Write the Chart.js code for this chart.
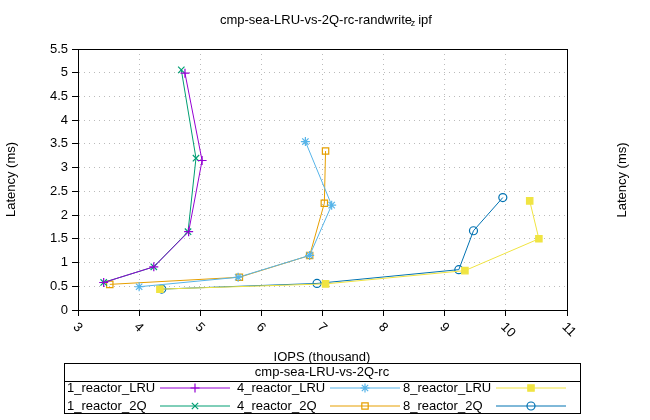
<!DOCTYPE html>
<html>
<head>
<meta charset="utf-8">
<script src="https://cdn.jsdelivr.net/npm/chart.js@4"></script>
<style>
  body { margin: 0; background: #fff; }
  #wrap { width: 650px; height: 420px; }
</style>
</head>
<body>
<div id="wrap"><canvas id="myChart"></canvas></div>
<script>
'use strict';

// IOPS (thousand) / latency (ms) per series
var r1_lru_x = [3.42, 4.24, 4.81, 5.03, 4.75];
var r1_lru_y = [0.58, 0.91, 1.65, 3.15, 4.99];
var r1_2q_x = [3.42, 4.24, 4.80, 4.93, 4.69];
var r1_2q_y = [0.58, 0.91, 1.65, 3.20, 5.06];
var r4_lru_x = [4.00, 5.62, 6.79, 7.15, 6.72];
var r4_lru_y = [0.49, 0.69, 1.15, 2.21, 3.55];
var r4_2q_x = [3.52, 5.64, 6.79, 7.03, 7.05];
var r4_2q_y = [0.54, 0.69, 1.15, 2.25, 3.35];
var r8_lru_x = [4.34, 7.05, 9.33, 10.54, 10.39];
var r8_lru_y = [0.44, 0.55, 0.83, 1.50, 2.30];
var r8_2q_x = [4.37, 6.91, 9.23, 9.47, 9.95];
var r8_2q_y = [0.44, 0.56, 0.85, 1.67, 2.37];

var x_ticks = [3, 4, 5, 6, 7, 8, 9, 10, 11];
var labels = ['1_reactor_LRU', '4_reactor_LRU', '8_reactor_LRU', '1_reactor_2Q', '4_reactor_2Q', '8_reactor_2Q'];

function pts(xs, ys) {
    return xs.map(function (x, i) { return {x: x, y: ys[i]}; });
}

function series(label, xs, ys, color, style, filled) {
    return {
        label: label,
        data: pts(xs, ys),
        showLine: true,
        borderColor: color,
        backgroundColor: filled ? color : 'rgba(0,0,0,0)',
        borderWidth: 1,
        pointStyle: style,
        pointRadius: style === 'circle' ? 4 : 4.5,
        pointBorderColor: color,
        pointBackgroundColor: filled ? color : 'rgba(0,0,0,0)',
        pointBorderWidth: 1.2
    };
}

var FONT = '"Liberation Sans", Arial, sans-serif';

var frame = {
    id: 'frame',
    afterDraw: function (chart) {
        var c = chart.ctx, a = chart.chartArea;
        c.save();
        c.strokeStyle = '#000';
        c.lineWidth = 1;
        c.strokeRect(a.left + 0.5, a.top + 0.5, a.right - a.left, a.bottom - a.top);
        c.fillStyle = '#000';
        c.textAlign = 'center';
        c.textBaseline = 'middle';
        c.font = '13px ' + FONT;
        c.fillText('cmp-sea-LRU-vs-2Q-rc-randwrite', 316, 20);
        c.font = '9px ' + FONT;
        c.fillText('z', 413, 24);
        c.font = '13px ' + FONT;
        c.fillText('ipf', 425, 20);
        c.fillText('IOPS (thousand)', 322, 357);

        // rotated x tick labels
        var xs = chart.scales.x;
        c.textAlign = 'left';
        x_ticks.forEach(function (v) {
            c.save();
            c.translate(xs.getPixelForValue(v) - 3, 325);
            c.rotate(Math.PI / 4);
            c.fillText(String(v), 0, 0);
            c.restore();
        });

        // right axis title
        c.save();
        c.translate(622, 180);
        c.rotate(-Math.PI / 2);
        c.textAlign = 'center';
        c.fillText('Latency (ms)', 0, 0);
        c.restore();

        // legend box
        c.textAlign = 'center';
        c.strokeRect(64.5, 363.5, 516, 50);
        c.beginPath();
        c.moveTo(64.5, 381.5); c.lineTo(580.5, 381.5);
        c.stroke();
        c.fillText('cmp-sea-LRU-vs-2Q-rc', 322, 372);
        c.textAlign = 'left';
        var cols = [67, 237, 403];
        chart.data.datasets.forEach(function (d, i) {
            var col = i % 3, row = Math.floor(i / 3);
            var x = cols[col], y = 388 + row * 18;
            c.fillStyle = '#000';
            c.fillText(d.label, x, y);
            var x1 = x + 93, x2 = x + 163;
            c.strokeStyle = d.borderColor;
            c.lineWidth = 1;
            c.beginPath();
            c.moveTo(x1, y); c.lineTo(x2, y);
            c.stroke();
            c.fillStyle = d.pointBackgroundColor;
            c.strokeStyle = d.pointBorderColor;
            c.lineWidth = 1.2;
            Chart.helpers.drawPoint(c, {
                pointStyle: d.pointStyle, radius: d.pointRadius, rotation: 0, borderWidth: 1.2
            }, (x1 + x2) / 2, y);
        });
        c.restore();
    }
};

new Chart(document.getElementById('myChart'), {
    type: 'scatter',
    data: {
        datasets: [
            series(labels[0], r1_lru_x, r1_lru_y, '#9400d3', 'cross', false),
            series(labels[1], r4_lru_x, r4_lru_y, '#56b4e9', 'star', false),
            series(labels[2], r8_lru_x, r8_lru_y, '#f0e442', 'rect', true),
            series(labels[3], r1_2q_x, r1_2q_y, '#009e73', 'crossRot', false),
            series(labels[4], r4_2q_x, r4_2q_y, '#e69f00', 'rect', false),
            series(labels[5], r8_2q_x, r8_2q_y, '#0072b2', 'circle', false)
        ]
    },
    options: {
        responsive: true,
        maintainAspectRatio: false,
        animation: false,
        layout: {padding: {top: 49, left: 0, right: 0, bottom: 0}},
        plugins: {legend: {display: false}, title: {display: false}, tooltip: {enabled: false}},
        scales: {
            x: {
                type: 'linear', min: 3, max: 11,
                afterBuildTicks: function (s) { s.ticks = x_ticks.map(function (v) { return {value: v}; }); },
                afterFit: function (s) { s.height = 110; },
                grid: {color: '#bbbbbb', drawTicks: true, tickColor: '#000', tickLength: 6},
                border: {display: true, color: 'rgba(0,0,0,0)', dash: [1, 4]},
                ticks: {display: false}
            },
            y: {
                min: 0, max: 5.5,
                afterFit: function (s) { s.width = 78; },
                grid: {color: '#bbbbbb', tickColor: '#000', tickLength: 6},
                border: {display: true, color: 'rgba(0,0,0,0)', dash: [1, 4]},
                ticks: {stepSize: 0.5, color: '#000', font: {family: FONT, size: 13}, padding: 4,
                        callback: function (v) { return String(v); }},
                title: {display: true, text: 'Latency (ms)', color: '#000', font: {family: FONT, size: 13}}
            },
            y2: {
                position: 'right', min: 0, max: 5.5,
                afterFit: function (s) { s.width = 83; },
                grid: {display: false},
                border: {display: false},
                ticks: {display: false}
            }
        }
    },
    plugins: [frame]
});
</script>
</body>
</html>
